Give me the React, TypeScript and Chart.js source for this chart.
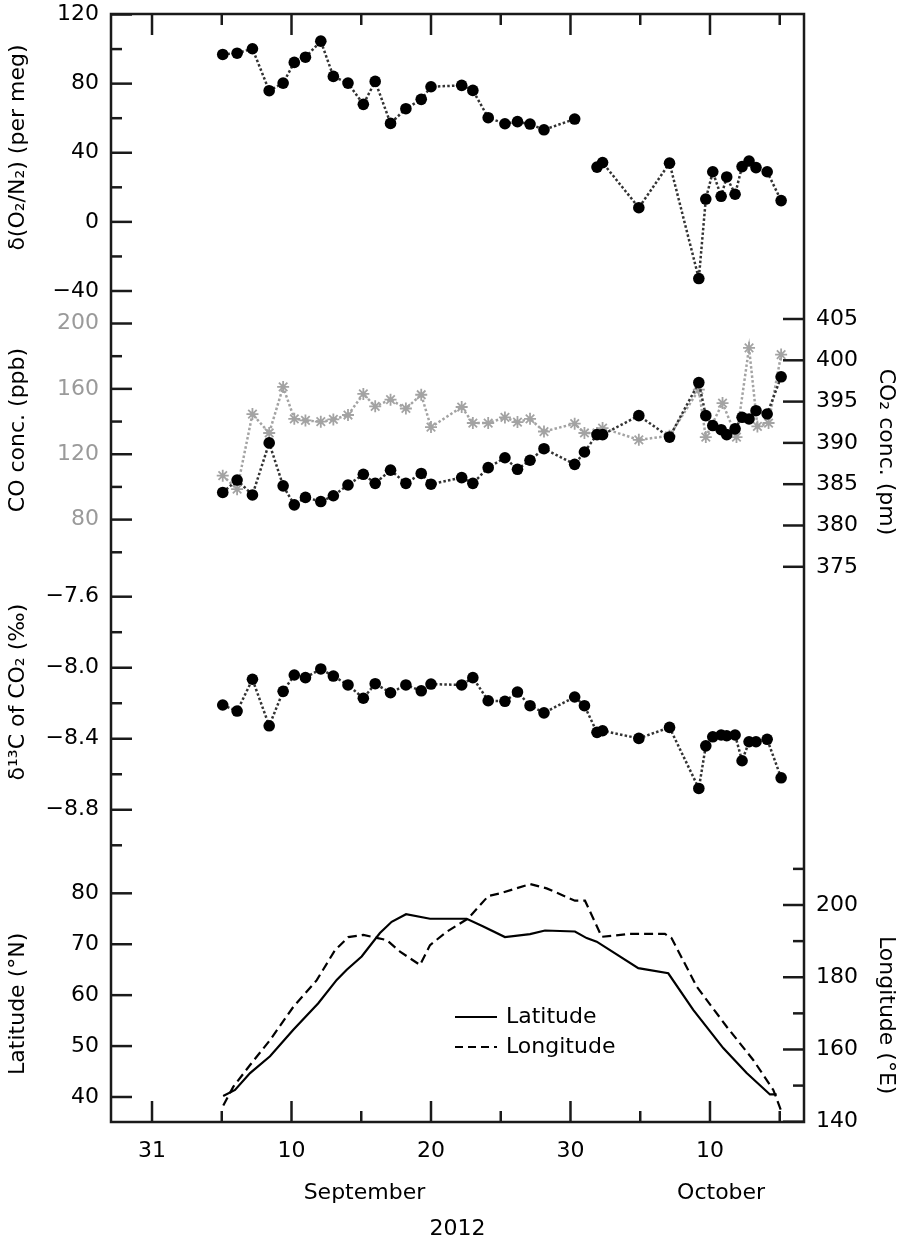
import React, { useEffect, useRef } from 'react';
import { Chart, registerables } from 'chart.js';

Chart.register(...registerables);

const FONT_FAMILY = '"DejaVu Sans", "Liberation Sans", sans-serif';
const FONT_SIZE = 22;
const INK = '#1a1a1a';
const GREY = '#a3a3a3';
const DOT_LINE = '#333333';

// x values are days after 31 August 2012 (1 = 1 Sep, 31 = 1 Oct)
const sampleDays = [5.07, 6.1, 7.2, 8.4, 9.4, 10.2, 11.0, 12.1, 13.0, 14.05, 15.15, 16.0, 17.1, 18.2, 19.3, 20.0,
  22.2, 23.0, 24.1, 25.3, 26.2, 27.1, 28.1, 30.3, 31.0, 31.9, 32.3, 34.9, 37.1, 39.2, 39.7, 40.2, 40.8, 41.2,
  41.8, 42.3, 42.8, 43.3, 44.1, 45.1];

const o2n2 = [96.9, 97.6, 100.2, 75.9, 80.3, 92.3, 95.3, 104.6, 84.2, 80.3, 68.0, 81.3, 57.0, 65.5, 70.9, 78.2,
  79.0, 76.1, 60.3, 56.8, 58.0, 56.6, 53.3, 59.5, null, 31.7, 34.3, 8.2, 34.0, -32.8, 13.2, 29.0, 14.8, 26.0,
  16.0, 32.0, 35.2, 31.4, 29.0, 12.3];

const co2 = [384.0, 385.5, 383.7, 390.0, 384.8, 382.5, 383.4, 382.9, 383.6, 384.9, 386.2, 385.1, 386.7, 385.1,
  386.3, 385.0, 385.8, 385.1, 387.0, 388.2, 386.8, 387.9, 389.3, 387.4, 388.9, 391.0, 391.0, 393.3, 390.7, 397.3,
  393.3, 392.1, 391.6, 391.0, 391.7, 393.1, 392.9, 393.9, 393.5, 398.0];

const d13c = [-8.21, -8.244, -8.065, -8.327, -8.133, -8.041, -8.056, -8.007, -8.047, -8.097, -8.172, -8.09,
  -8.141, -8.097, -8.13, -8.092, -8.097, -8.056, -8.186, -8.189, -8.137, -8.214, -8.254, -8.165, -8.214, -8.364,
  -8.355, -8.398, -8.336, -8.68, -8.44, -8.389, -8.379, -8.383, -8.379, -8.524, -8.417, -8.417, -8.403, -8.62];

const coDays = [5.07, 6.1, 7.2, 8.4, 9.4, 10.2, 11.0, 12.1, 13.0, 14.05, 15.15, 16.0, 17.1, 18.2, 19.3, 20.0,
  22.2, 23.0, 24.1, 25.3, 26.2, 27.1, 28.1, 30.3, 31.0, 31.9, 32.3, 34.9, 37.1, 39.2, 39.7, 40.9, 41.9, 42.8,
  43.4, 44.2, 45.1];
const coConc = [106.9, 98.6, 144.6, 133.0, 161.2, 141.7, 140.7, 139.9, 141.3, 144.0, 156.9, 149.3, 153.4, 148.0,
  156.4, 136.6, 148.9, 139.1, 139.1, 142.5, 139.7, 141.7, 133.9, 138.7, 133.0, 133.0, 136.0, 128.8, 131.3, 159.5,
  130.5, 151.3, 130.5, 185.1, 137.0, 139.1, 181.0];

const latDays = [5.1, 5.95, 7.03, 8.46, 10.13, 11.92, 13.24, 13.96, 15.03, 16.34, 17.18, 18.21, 19.93, 22.56,
  23.75, 25.3, 27.1, 28.17, 30.32, 31.16, 31.88, 34.86, 37.01, 38.8, 40.95, 42.63, 44.3, 44.78];
const latitude = [40.2, 41.4, 44.7, 48.0, 53.2, 58.4, 63.0, 65.0, 67.6, 72.2, 74.4, 75.9, 75.0, 75.0, 73.5, 71.4,
  72.0, 72.7, 72.5, 71.2, 70.5, 65.3, 64.3, 57.1, 49.6, 44.7, 40.5, 40.5];

const lonDays = [5.11, 5.83, 7.03, 8.46, 10.13, 11.81, 13.12, 14.07, 15.15, 16.82, 17.78, 19.21, 19.93, 21.13,
  22.67, 24.11, 24.95, 27.1, 28.29, 30.32, 31.04, 32.24, 34.27, 36.77, 37.25, 39.05, 41.2, 43.1, 44.54, 45.2];
const longitude = [144.5, 149.7, 155.7, 162.6, 171.8, 179.2, 187.5, 191.1, 191.7, 190.3, 187.1, 183.4, 188.9,
  192.6, 196.3, 202.5, 203.2, 205.8, 204.6, 201.2, 201.2, 191.2, 192.0, 192.0, 190.8, 177.4, 166.3, 157.1, 148.8,
  142.0];

// tick labels
const xTickValues = [0, 10, 20, 30, 40];
const xTickLabels = ['31', '10', '20', '30', '10'];
const xMinorTicks = [5, 15, 25, 35, 45];
const monthTickValues = [15.23, 40.8];
const monthLabels = ['September', 'October'];
const yearLabel = '2012';

const o2Major = [120, 80, 40, 0, -40];
const o2Minor = [100, 60, 20, -20];
const coMajor = [200, 160, 120, 80];
const coMinor = [180, 140, 100, 60];
const d13Major = [-7.6, -8.0, -8.4, -8.8];
const d13Minor = [-7.8, -8.2, -8.6, -9.0];
const latMajor = [80, 70, 60, 50, 40];
const co2Major = [405, 400, 395, 390, 385, 380, 375];
const lonMajor = [200, 180, 160, 140];
const lonMinor = [210, 190, 170, 150];

const titleO2 = 'δ(O₂/N₂) (per meg)';
const titleCO = 'CO conc. (ppb)';
const titleD13 = 'δ¹³C of CO₂ (‰)';
const titleLat = 'Latitude (°N)';
const titleCO2 = 'CO₂ conc. (pm)';
const titleLon = 'Longitude (°E)';
const legendLabels = ['Latitude', 'Longitude'];

const font = { family: FONT_FAMILY, size: FONT_SIZE };
const fmt = (v: number, dec: number) => (v < 0 ? '\u2212' : '') + Math.abs(v).toFixed(dec);
const pts = (xs: number[], ys: (number | null)[]) => xs.map((x, i) => ({ x, y: ys[i] }));

const X_MIN = -2.94;
const X_MAX = 46.74;

const noPad = (s: any) => { s.paddingTop = 0; s.paddingBottom = 0; s.paddingLeft = 0; s.paddingRight = 0; };

function leftScale(weight: number, stackWeight: number, min: number, max: number, majors: number[], color: string, dec: number) {
  return {
    type: 'linear', position: 'left', stack: 'left', stackWeight, weight, min, max,
    grid: { display: false, drawTicks: false }, border: { display: false },
    afterBuildTicks: (s: any) => { s.ticks = majors.map((v) => ({ value: v })); },
    afterFit: (s: any) => { s.width = 111; noPad(s); },
    ticks: { autoSkip: false, padding: 12, color, font, callback: (v: any) => fmt(Number(v), dec) },
  };
}

function rightScale(weight: number, stackWeight: number, min: number, max: number, majors: number[] | null) {
  return {
    type: 'linear', position: 'right', stack: 'right', stackWeight, weight, min, max,
    grid: { display: false, drawTicks: false }, border: { display: false },
    afterBuildTicks: (s: any) => { if (majors) s.ticks = majors.map((v) => ({ value: v })); },
    afterFit: (s: any) => { s.width = 98; noPad(s); },
    ticks: { display: !!majors, autoSkip: false, padding: 12, color: '#000', font, callback: (v: any) => fmt(Number(v), 0) },
  };
}

const tickSpecs = [
  { id: 'yO2', side: 'left', major: o2Major, minor: o2Minor },
  { id: 'yCO', side: 'left', major: coMajor, minor: coMinor },
  { id: 'yD13', side: 'left', major: d13Major, minor: d13Minor },
  { id: 'yLat', side: 'left', major: latMajor, minor: [] as number[] },
  { id: 'yCO2', side: 'right', major: co2Major, minor: [] as number[] },
  { id: 'yLon', side: 'right', major: lonMajor, minor: lonMinor },
];

const titleSpecs = [
  { id: 'yO2', at: 43, side: 'left', text: titleO2 },
  { id: 'yCO', at: 134.8, side: 'left', text: titleCO },
  { id: 'yD13', at: -8.137, side: 'left', text: titleD13 },
  { id: 'yLat', at: 58.3, side: 'left', text: titleLat },
  { id: 'yCO2', at: 388.9, side: 'right', text: titleCO2 },
  { id: 'yLon', at: 169.5, side: 'right', text: titleLon },
];

const framePlugin = {
  id: 'frameAndTicks',
  afterDraw(chart: any) {
    const { ctx, chartArea: a } = chart;
    ctx.save();
    ctx.strokeStyle = INK;
    ctx.lineWidth = 2.5;
    const MAJ = 21;
    const MIN = 11;
    const line = (x1: number, y1: number, x2: number, y2: number) => {
      ctx.beginPath(); ctx.moveTo(x1, y1); ctx.lineTo(x2, y2); ctx.stroke();
    };
    for (const spec of tickSpecs) {
      const s = chart.scales[spec.id];
      const draw = (v: number, len: number) => {
        const y = s.getPixelForValue(v);
        if (spec.side === 'left') line(a.left, y, a.left + len, y);
        else line(a.right - len, y, a.right, y);
      };
      spec.major.forEach((v) => draw(v, MAJ));
      spec.minor.forEach((v) => draw(v, MIN));
    }
    const xs = chart.scales.x;
    const drawX = (v: number, len: number) => {
      const x = xs.getPixelForValue(v);
      line(x, a.bottom, x, a.bottom - len);
      line(x, a.top, x, a.top + len);
    };
    xTickValues.forEach((v) => drawX(v, MAJ));
    xMinorTicks.forEach((v) => drawX(v, MIN));
    ctx.strokeRect(a.left, a.top, a.right - a.left, a.bottom - a.top);

    // axis titles
    ctx.fillStyle = '#000';
    ctx.font = `${FONT_SIZE}px ${FONT_FAMILY}`;
    ctx.textAlign = 'center';
    ctx.textBaseline = 'middle';
    for (const t of titleSpecs) {
      const y = chart.scales[t.id].getPixelForValue(t.at);
      ctx.save();
      if (t.side === 'left') {
        ctx.translate(18, y);
        ctx.rotate(-Math.PI / 2);
      } else {
        ctx.translate(886, y);
        ctx.rotate(Math.PI / 2);
      }
      ctx.fillText(t.text, 0, 0);
      ctx.restore();
    }

    // legend
    const lx = 455;
    const ly = 1017;
    const gap = 30;
    ctx.lineWidth = 2.2;
    ctx.strokeStyle = '#000';
    legendLabels.forEach((lab, i) => {
      const y = ly + i * gap;
      ctx.setLineDash(i === 0 ? [] : [8, 5]);
      line(lx, y, lx + 42, y);
      ctx.setLineDash([]);
      ctx.textAlign = 'left';
      ctx.fillText(lab, lx + 51, y);
    });
    ctx.restore();
  },
};

export default function App() {
  const ref = useRef<HTMLCanvasElement | null>(null);

  useEffect(() => {
    if (!ref.current) return;
    const dotted = {
      borderColor: DOT_LINE, borderWidth: 2.5, borderDash: [2.5, 2.2], pointRadius: 5.8,
      pointBackgroundColor: '#000', pointBorderWidth: 0, pointHoverRadius: 5.8, tension: 0, spanGaps: false,
    };
    const chart = new Chart(ref.current, {
      type: 'line',
      data: {
        datasets: [
          { ...dotted, label: 'O2/N2', data: pts(sampleDays, o2n2), xAxisID: 'x', yAxisID: 'yO2' },
          { ...dotted, label: 'CO2', data: pts(sampleDays, co2), xAxisID: 'x', yAxisID: 'yCO2' },
          {
            label: 'CO', data: pts(coDays, coConc), xAxisID: 'x', yAxisID: 'yCO',
            borderColor: GREY, borderWidth: 2.5, borderDash: [2.5, 2.2], pointStyle: 'star', pointRadius: 6,
            pointBorderColor: GREY, pointBackgroundColor: GREY, pointBorderWidth: 1.8, tension: 0,
          },
          { ...dotted, label: 'd13C', data: pts(sampleDays, d13c), xAxisID: 'x', yAxisID: 'yD13' },
          {
            label: 'Latitude', data: pts(latDays, latitude), xAxisID: 'x', yAxisID: 'yLat',
            borderColor: '#000', borderWidth: 2.2, pointRadius: 0, tension: 0,
          },
          {
            label: 'Longitude', data: pts(lonDays, longitude), xAxisID: 'x', yAxisID: 'yLon',
            borderColor: '#000', borderWidth: 2.2, borderDash: [9, 5], pointRadius: 0, tension: 0,
          },
        ],
      } as any,
      options: {
        animation: false,
        responsive: true,
        maintainAspectRatio: false,
        layout: { autoPadding: false, padding: { top: 14, left: 0, right: 0, bottom: 0 } },
        plugins: { legend: { display: false }, tooltip: { enabled: false } },
        events: [],
        scales: {
          x: {
            type: 'linear', position: 'bottom', weight: 0, min: X_MIN, max: X_MAX,
            grid: { display: false, drawTicks: false }, border: { display: false },
            afterBuildTicks: (s: any) => { s.ticks = xTickValues.map((v) => ({ value: v })); },
            afterFit: (s: any) => { s.height = 48; noPad(s); },
            ticks: {
              autoSkip: false, maxRotation: 0, padding: 16, color: '#000', font,
              callback: (v: any) => xTickLabels[xTickValues.indexOf(Number(v))],
            },
          },
          xMonth: {
            type: 'linear', position: 'bottom', weight: 1, min: X_MIN, max: X_MAX,
            grid: { display: false, drawTicks: false }, border: { display: false },
            afterBuildTicks: (s: any) => { s.ticks = monthTickValues.map((v) => ({ value: v })); },
            afterFit: (s: any) => { s.height = 70; noPad(s); },
            ticks: {
              autoSkip: false, maxRotation: 0, padding: 10, color: '#000', font,
              callback: (v: any) => monthLabels[monthTickValues.indexOf(Number(v))],
            },
            title: { display: true, text: yearLabel, color: '#000', font, padding: { top: 0, bottom: -2 } },
          },
          yO2: leftScale(4, 293, -49.26, 120.3, o2Major, '#000', 0),
          yCO: leftScale(3, 268, 46.1, 210.1, coMajor, '#9a9a9a', 0),
          yD13: leftScale(2, 293, -9.1279, -7.4778, d13Major, '#000', 1),
          yLat: leftScale(1, 254, 35.09, 84.97, latMajor, '#000', 0),
          rTop: rightScale(1, 286, 0, 1, null),
          yCO2: rightScale(2, 290, 372.19, 407.3, co2Major),
          rMid: rightScale(3, 270, 0, 1, null),
          yLon: rightScale(4, 262, 139.92, 212.46, lonMajor),
        } as any,
      },
      plugins: [framePlugin],
    });
    return () => chart.destroy();
  }, []);

  return (
    <div style={{ position: 'fixed', left: 0, top: 0, width: 902, height: 1240, background: '#fff' }}>
      <canvas ref={ref} />
    </div>
  );
}
